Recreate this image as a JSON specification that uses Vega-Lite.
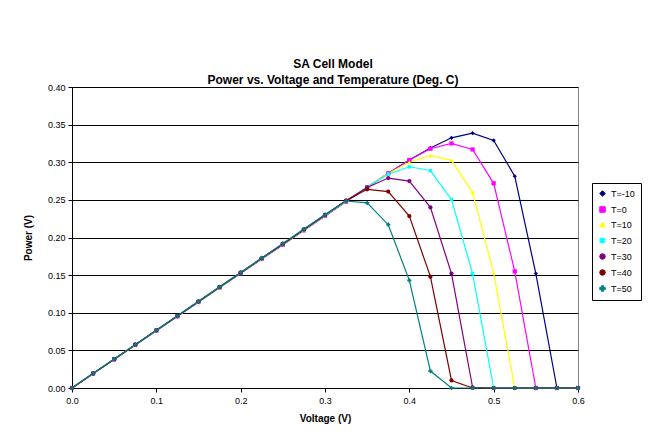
{
  "$schema": "https://vega.github.io/schema/vega-lite/v6.json",
  "width": 506,
  "height": 301,
  "autosize": {"type": "none"},
  "padding": {"left": 72, "top": 87, "right": 87, "bottom": 48},
  "background": "white",
  "config": {
    "font": "Liberation Sans",
    "view": {"stroke": "#888888", "strokeWidth": 1},
    "axis": {"labelFont": "Liberation Sans", "titleFont": "Liberation Sans", "labelColor": "black", "titleColor": "black", "domainColor": "black", "tickColor": "black", "labelFontSize": 9, "titleFontSize": 10, "titleFontWeight": "bold", "labelFlush": false}
  },
  "title": {
    "text": ["SA Cell Model", "Power vs. Voltage and Temperature (Deg. C)"],
    "font": "Liberation Sans",
    "fontSize": 12,
    "fontWeight": "bold",
    "color": "black",
    "anchor": "middle",
    "frame": "group",
    "dx": 8,
    "offset": -4,
    "lineHeight": 16
  },
  "data": {
    "values": [
      {"V":0,"P":0,"s":"T=-10"},{"V":0.025,"P":0.0191,"s":"T=-10"},{"V":0.05,"P":0.0381,"s":"T=-10"},{"V":0.075,"P":0.0572,"s":"T=-10"},{"V":0.1,"P":0.0762,"s":"T=-10"},{"V":0.125,"P":0.0953,"s":"T=-10"},{"V":0.15,"P":0.1143,"s":"T=-10"},{"V":0.175,"P":0.1334,"s":"T=-10"},{"V":0.2,"P":0.1524,"s":"T=-10"},{"V":0.225,"P":0.1715,"s":"T=-10"},{"V":0.25,"P":0.1905,"s":"T=-10"},{"V":0.275,"P":0.2096,"s":"T=-10"},{"V":0.3,"P":0.2286,"s":"T=-10"},{"V":0.325,"P":0.2477,"s":"T=-10"},{"V":0.35,"P":0.2667,"s":"T=-10"},{"V":0.375,"P":0.2855,"s":"T=-10"},{"V":0.4,"P":0.303,"s":"T=-10"},{"V":0.425,"P":0.319,"s":"T=-10"},{"V":0.45,"P":0.3325,"s":"T=-10"},{"V":0.475,"P":0.3387,"s":"T=-10"},{"V":0.5,"P":0.329,"s":"T=-10"},{"V":0.525,"P":0.2814,"s":"T=-10"},{"V":0.55,"P":0.152,"s":"T=-10"},{"V":0.575,"P":0,"s":"T=-10"},{"V":0.6,"P":0,"s":"T=-10"},
      {"V":0,"P":0,"s":"T=0"},{"V":0.025,"P":0.0191,"s":"T=0"},{"V":0.05,"P":0.0381,"s":"T=0"},{"V":0.075,"P":0.0572,"s":"T=0"},{"V":0.1,"P":0.0762,"s":"T=0"},{"V":0.125,"P":0.0953,"s":"T=0"},{"V":0.15,"P":0.1143,"s":"T=0"},{"V":0.175,"P":0.1334,"s":"T=0"},{"V":0.2,"P":0.1524,"s":"T=0"},{"V":0.225,"P":0.1715,"s":"T=0"},{"V":0.25,"P":0.1905,"s":"T=0"},{"V":0.275,"P":0.2096,"s":"T=0"},{"V":0.3,"P":0.2286,"s":"T=0"},{"V":0.325,"P":0.2477,"s":"T=0"},{"V":0.35,"P":0.2667,"s":"T=0"},{"V":0.375,"P":0.2852,"s":"T=0"},{"V":0.4,"P":0.303,"s":"T=0"},{"V":0.425,"P":0.318,"s":"T=0"},{"V":0.45,"P":0.325,"s":"T=0"},{"V":0.475,"P":0.317,"s":"T=0"},{"V":0.5,"P":0.272,"s":"T=0"},{"V":0.525,"P":0.155,"s":"T=0"},{"V":0.55,"P":0,"s":"T=0"},{"V":0.575,"P":0,"s":"T=0"},{"V":0.6,"P":0,"s":"T=0"},
      {"V":0,"P":0,"s":"T=10"},{"V":0.025,"P":0.0191,"s":"T=10"},{"V":0.05,"P":0.0382,"s":"T=10"},{"V":0.075,"P":0.0573,"s":"T=10"},{"V":0.1,"P":0.0764,"s":"T=10"},{"V":0.125,"P":0.0955,"s":"T=10"},{"V":0.15,"P":0.1146,"s":"T=10"},{"V":0.175,"P":0.1337,"s":"T=10"},{"V":0.2,"P":0.1528,"s":"T=10"},{"V":0.225,"P":0.1719,"s":"T=10"},{"V":0.25,"P":0.191,"s":"T=10"},{"V":0.275,"P":0.2101,"s":"T=10"},{"V":0.3,"P":0.2292,"s":"T=10"},{"V":0.325,"P":0.2483,"s":"T=10"},{"V":0.35,"P":0.2672,"s":"T=10"},{"V":0.375,"P":0.285,"s":"T=10"},{"V":0.4,"P":0.3,"s":"T=10"},{"V":0.425,"P":0.309,"s":"T=10"},{"V":0.45,"P":0.3025,"s":"T=10"},{"V":0.475,"P":0.26,"s":"T=10"},{"V":0.5,"P":0.1526,"s":"T=10"},{"V":0.525,"P":0,"s":"T=10"},{"V":0.55,"P":0,"s":"T=10"},{"V":0.575,"P":0,"s":"T=10"},{"V":0.6,"P":0,"s":"T=10"},
      {"V":0,"P":0,"s":"T=20"},{"V":0.025,"P":0.0191,"s":"T=20"},{"V":0.05,"P":0.0382,"s":"T=20"},{"V":0.075,"P":0.0573,"s":"T=20"},{"V":0.1,"P":0.0764,"s":"T=20"},{"V":0.125,"P":0.0955,"s":"T=20"},{"V":0.15,"P":0.1146,"s":"T=20"},{"V":0.175,"P":0.1337,"s":"T=20"},{"V":0.2,"P":0.1528,"s":"T=20"},{"V":0.225,"P":0.1719,"s":"T=20"},{"V":0.25,"P":0.191,"s":"T=20"},{"V":0.275,"P":0.2101,"s":"T=20"},{"V":0.3,"P":0.2292,"s":"T=20"},{"V":0.325,"P":0.2483,"s":"T=20"},{"V":0.35,"P":0.267,"s":"T=20"},{"V":0.375,"P":0.284,"s":"T=20"},{"V":0.4,"P":0.294,"s":"T=20"},{"V":0.425,"P":0.289,"s":"T=20"},{"V":0.45,"P":0.2505,"s":"T=20"},{"V":0.475,"P":0.152,"s":"T=20"},{"V":0.5,"P":0,"s":"T=20"},{"V":0.525,"P":0,"s":"T=20"},{"V":0.55,"P":0,"s":"T=20"},{"V":0.575,"P":0,"s":"T=20"},{"V":0.6,"P":0,"s":"T=20"},
      {"V":0,"P":0,"s":"T=30"},{"V":0.025,"P":0.0192,"s":"T=30"},{"V":0.05,"P":0.0383,"s":"T=30"},{"V":0.075,"P":0.0575,"s":"T=30"},{"V":0.1,"P":0.0766,"s":"T=30"},{"V":0.125,"P":0.0958,"s":"T=30"},{"V":0.15,"P":0.1149,"s":"T=30"},{"V":0.175,"P":0.1341,"s":"T=30"},{"V":0.2,"P":0.1532,"s":"T=30"},{"V":0.225,"P":0.1724,"s":"T=30"},{"V":0.25,"P":0.1915,"s":"T=30"},{"V":0.275,"P":0.2107,"s":"T=30"},{"V":0.3,"P":0.2298,"s":"T=30"},{"V":0.325,"P":0.249,"s":"T=30"},{"V":0.35,"P":0.2665,"s":"T=30"},{"V":0.375,"P":0.279,"s":"T=30"},{"V":0.4,"P":0.275,"s":"T=30"},{"V":0.425,"P":0.24,"s":"T=30"},{"V":0.45,"P":0.152,"s":"T=30"},{"V":0.475,"P":0.001,"s":"T=30"},{"V":0.5,"P":0,"s":"T=30"},{"V":0.525,"P":0,"s":"T=30"},{"V":0.55,"P":0,"s":"T=30"},{"V":0.575,"P":0,"s":"T=30"},{"V":0.6,"P":0,"s":"T=30"},
      {"V":0,"P":0,"s":"T=40"},{"V":0.025,"P":0.0192,"s":"T=40"},{"V":0.05,"P":0.0383,"s":"T=40"},{"V":0.075,"P":0.0575,"s":"T=40"},{"V":0.1,"P":0.0766,"s":"T=40"},{"V":0.125,"P":0.0958,"s":"T=40"},{"V":0.15,"P":0.1149,"s":"T=40"},{"V":0.175,"P":0.1341,"s":"T=40"},{"V":0.2,"P":0.1532,"s":"T=40"},{"V":0.225,"P":0.1724,"s":"T=40"},{"V":0.25,"P":0.1915,"s":"T=40"},{"V":0.275,"P":0.2107,"s":"T=40"},{"V":0.3,"P":0.2298,"s":"T=40"},{"V":0.325,"P":0.249,"s":"T=40"},{"V":0.35,"P":0.264,"s":"T=40"},{"V":0.375,"P":0.261,"s":"T=40"},{"V":0.4,"P":0.2285,"s":"T=40"},{"V":0.425,"P":0.148,"s":"T=40"},{"V":0.45,"P":0.01,"s":"T=40"},{"V":0.475,"P":0,"s":"T=40"},{"V":0.5,"P":0,"s":"T=40"},{"V":0.525,"P":0,"s":"T=40"},{"V":0.55,"P":0,"s":"T=40"},{"V":0.575,"P":0,"s":"T=40"},{"V":0.6,"P":0,"s":"T=40"},
      {"V":0,"P":0,"s":"T=50"},{"V":0.025,"P":0.0192,"s":"T=50"},{"V":0.05,"P":0.0384,"s":"T=50"},{"V":0.075,"P":0.0576,"s":"T=50"},{"V":0.1,"P":0.0768,"s":"T=50"},{"V":0.125,"P":0.096,"s":"T=50"},{"V":0.15,"P":0.1152,"s":"T=50"},{"V":0.175,"P":0.1344,"s":"T=50"},{"V":0.2,"P":0.1536,"s":"T=50"},{"V":0.225,"P":0.1728,"s":"T=50"},{"V":0.25,"P":0.192,"s":"T=50"},{"V":0.275,"P":0.2112,"s":"T=50"},{"V":0.3,"P":0.2304,"s":"T=50"},{"V":0.325,"P":0.2485,"s":"T=50"},{"V":0.35,"P":0.246,"s":"T=50"},{"V":0.375,"P":0.217,"s":"T=50"},{"V":0.4,"P":0.143,"s":"T=50"},{"V":0.425,"P":0.0225,"s":"T=50"},{"V":0.45,"P":0,"s":"T=50"},{"V":0.475,"P":0,"s":"T=50"},{"V":0.5,"P":0,"s":"T=50"},{"V":0.525,"P":0,"s":"T=50"},{"V":0.55,"P":0,"s":"T=50"},{"V":0.575,"P":0,"s":"T=50"},{"V":0.6,"P":0,"s":"T=50"}
    ]
  },
  "encoding": {
    "x": {"field": "V", "type": "quantitative", "title": "Voltage (V)",
      "scale": {"domain": [0, 0.6], "nice": false, "zero": true},
      "axis": {"values": [0, 0.1, 0.2, 0.3, 0.4, 0.5, 0.6], "format": ".1f", "grid": false, "tickSize": 4, "labelPadding": 4, "titlePadding": 8}},
    "y": {"field": "P", "type": "quantitative", "title": "Power (V)",
      "scale": {"domain": [0, 0.4], "nice": false},
      "axis": {"values": [0, 0.05, 0.1, 0.15, 0.2, 0.25, 0.3, 0.35, 0.4], "format": ".2f", "grid": true, "gridColor": "black", "gridOpacity": 1, "gridWidth": 1, "tickSize": 4, "labelPadding": 3, "titlePadding": 14}},
    "color": {"field": "s", "type": "nominal", "title": null,
      "scale": {"domain": ["T=-10", "T=0", "T=10", "T=20", "T=30", "T=40", "T=50"],
        "range": ["#000080", "#FF00FF", "#FFFF00", "#00FFFF", "#800080", "#800000", "#008080"]},
      "legend": {"orient": "none", "legendX": 520, "legendY": 96, "strokeColor": "black", "fillColor": "white", "padding": 6, "labelFontSize": 9, "labelFont": "Liberation Sans", "labelColor": "black", "symbolSize": 30, "rowPadding": 5, "symbolStrokeWidth": 1}},
    "order": {"field": "V", "type": "quantitative"}
  },
  "layer": [
    {"mark": {"type": "line", "strokeWidth": 1.2}},
    {"mark": {"type": "point", "filled": true, "size": 18, "opacity": 1},
      "encoding": {
        "shape": {"field": "s", "type": "nominal",
          "scale": {"domain": ["T=-10", "T=0", "T=10", "T=20", "T=30", "T=40", "T=50"],
            "range": ["diamond", "square", "triangle-up", "M-1,-0.4L-0.4,-1L0,-0.6L0.4,-1L1,-0.4L0.6,0L1,0.4L0.4,1L0,0.6L-0.4,1L-1,0.4L-0.6,0Z", "circle", "circle", "cross"]},
          "legend": null}
      }}
  ]
}
